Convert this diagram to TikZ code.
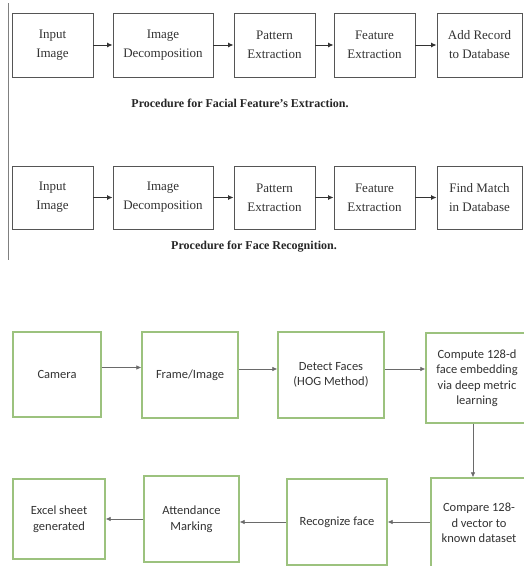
\documentclass[tikz,border=0pt]{standalone}
\usepackage{fontspec}
\setmainfont{Liberation Serif}
\newfontfamily\calibri{Carlito}
\usetikzlibrary{arrows.meta, positioning}
\definecolor{boxgray}{HTML}{555555}
\definecolor{boxgreen}{HTML}{9CC27E}
\definecolor{linegray}{HTML}{6A6A6A}
\begin{document}
\begin{tikzpicture}[x=1pt, y=-1pt, step box/.style={draw=boxgray, line width=0.9pt, align=center, inner sep=2pt, font=\fontsize{13}{19}\selectfont, text=black!80}, flow box/.style={draw=boxgreen, line width=1.3pt, align=center, inner sep=2pt, font=\calibri\fontsize{12.5}{15.5}\selectfont, text=black!80}, arr/.style={line width=0.9pt, draw=black!80, -{Latex[length=5.5pt, width=5pt]}}, flow arr/.style={line width=0.7pt, draw=linegray, -{Latex[length=5pt, width=4.5pt]}}, caption/.style={font=\bfseries\fontsize{12}{14}\selectfont, text=black!85}]
\clip (0,0) rectangle (524,566);
\fill[white] (0,0) rectangle (524,566);
% left rule of the first figure
\coordinate (ruletop) at (8,3); \coordinate (rulebot) at (8,260);
\draw[black!50, line width=0.8pt] (ruletop) -- (rulebot);
% facial feature extraction
\node[step box, minimum width=81pt, minimum height=64pt] (inA) at (52.5,45) {Input\\Image};
\node[step box, minimum width=100pt, minimum height=64pt] (decA) at (163,45) {Image\\Decomposition};
\node[step box, minimum width=81pt, minimum height=64pt] (patA) at (274.5,45) {Pattern\\Extraction};
\node[step box, minimum width=81pt, minimum height=64pt] (featA) at (374.5,45) {Feature\\Extraction};
\node[step box, minimum width=85pt, minimum height=64pt] (addrec) at (479.5,45) {Add Record\\to Database};
\draw[arr] (inA) -- (decA); \draw[arr] (decA) -- (patA); \draw[arr] (patA) -- (featA); \draw[arr] (featA) -- (addrec);
\node[caption] (capA) at (240,103) {Procedure for Facial Feature's Extraction.};
% face recognition
\node[step box, minimum width=81pt, minimum height=63pt] (inB) at (52.5,197.5) {Input\\Image};
\node[step box, minimum width=100pt, minimum height=63pt] (decB) at (163,197.5) {Image\\Decomposition};
\node[step box, minimum width=81pt, minimum height=63pt] (patB) at (274.5,197.5) {Pattern\\Extraction};
\node[step box, minimum width=81pt, minimum height=63pt] (featB) at (374.5,197.5) {Feature\\Extraction};
\node[step box, minimum width=85pt, minimum height=63pt] (findmatch) at (479.5,197.5) {Find Match\\in Database};
\draw[arr] (inB) -- (decB); \draw[arr] (decB) -- (patB); \draw[arr] (patB) -- (featB); \draw[arr] (featB) -- (findmatch);
\node[caption] (capB) at (254,247) {Procedure for Face Recognition.};
% attendance system
\node[flow box, minimum width=88pt, minimum height=85pt] (camera) at (57,374.5) {Camera};
\node[flow box, minimum width=96pt, minimum height=86pt] (frame) at (190,375) {Frame/Image};
\node[flow box, minimum width=106pt, minimum height=86pt] (detect) at (331,375) {Detect Faces\\(HOG Method)};
\node[flow box, minimum width=102pt, minimum height=90pt] (compute) at (477,378) {Compute 128-d\\face embedding\\via deep metric\\learning};
\node[flow box, minimum width=96pt, minimum height=90pt] (compare) at (479,523) {Compare 128-\\d vector to\\known dataset};
\node[flow box, minimum width=100pt, minimum height=86pt] (recog) at (337,522) {Recognize face};
\node[flow box, minimum width=95pt, minimum height=86pt] (attend) at (191.5,519) {Attendance\\Marking};
\node[flow box, minimum width=92pt, minimum height=80pt] (excel) at (59,519) {Excel sheet\\generated};
\draw[flow arr] ([yshift=7pt]camera.east) -- ([yshift=7pt]camera.east -| frame.west);
\draw[flow arr] ([yshift=6pt]frame.east) -- ([yshift=6pt]frame.east -| detect.west);
\draw[flow arr] ([yshift=6pt]detect.east) -- ([yshift=6pt]detect.east -| compute.west);
\draw[flow arr] ([xshift=-4pt]compute.south) -- ([xshift=-4pt]compute.south |- compare.north);
\draw[flow arr] (compare.west |- recog.east) -- (recog.east);
\draw[flow arr] (recog.west) -- (recog.west -| attend.east);
\draw[flow arr] (attend.west) -- (excel.east);
\end{tikzpicture}
\end{document}
